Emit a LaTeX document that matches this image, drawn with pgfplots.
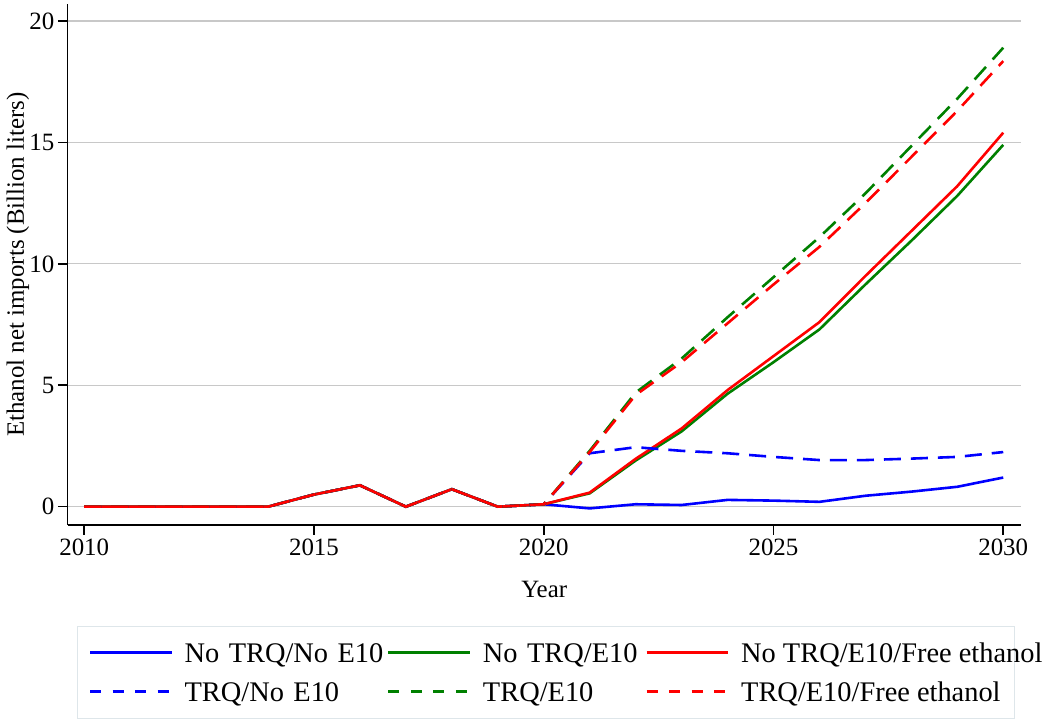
\documentclass[border=0pt]{standalone}
\usepackage{fontspec}
\setmainfont{Liberation Serif}
\usepackage{pgfplots}
\usepackage{pgfplotstable}
\pgfplotsset{compat=1.18}
\definecolor{gridgray}{RGB}{200,200,200}
\definecolor{legborder}{RGB}{222,230,234}
\definecolor{sblue}{RGB}{0,0,255}
\definecolor{sgreen}{RGB}{0,128,0}
\definecolor{sred}{RGB}{255,0,0}

\pgfplotstableread{
year ntne  nte   ntef  tne   te    tef
2010 0     0     0     0     0     0
2011 0     0     0     0     0     0
2012 0     0     0     0     0     0
2013 0     0     0     0     0     0
2014 0     0     0     0     0     0
2015 0.5   0.5   0.5   0.5   0.5   0.5
2016 0.88  0.88  0.88  0.88  0.88  0.88
2017 0     0     0     0     0     0
2018 0.72  0.72  0.72  0.72  0.72  0.72
2019 0     0     0     0     0     0
2020 0.1   0.1   0.1   0.1   0.1   0.1
2021 -0.07 0.55  0.58  2.2   2.3   2.25
2022 0.1   1.9   1.97  2.45  4.7   4.6
2023 0.07  3.1   3.22  2.3   6.1   5.95
2024 0.28  4.65  4.8   2.2   7.8   7.55
2025 0.25  5.95  6.2   2.05  9.45  9.15
2026 0.2   7.3   7.6   1.92  11.1  10.7
2027 0.45  9.15  9.5   1.92  12.9  12.5
2028 0.62  10.95 11.35 1.98  14.85 14.4
2029 0.82  12.8  13.2  2.05  16.8  16.3
2030 1.2   14.9  15.4  2.25  18.9  18.35
}\data

\begin{document}
\begin{tikzpicture}
\begin{axis}[
  scale only axis, width=953bp, height=521bp,
  xmin=2009.64, xmax=2030.38, ymin=-0.754, ymax=20.70,
  axis x line*=bottom, axis y line*=left,
  axis line style={-, line width=1.2bp, black},
  xtick={2010,2015,2020,2025,2030}, ytick={0,5,10,15,20},
  tick align=outside,
  major tick length=0.35cm,
  tick style={black, line width=1.6bp},
  ymajorgrids, grid style={gridgray, line width=1.3bp},
  /pgf/number format/assume math mode=true,
  x tick label style={/pgf/number format/1000 sep={}},
  tick label style={font=\fontsize{25}{30}\selectfont},
  xlabel={Year}, ylabel={Ethanol net imports (Billion liters)},
  every axis x label/.style={at={(rel axis cs:0.5,0)}, yshift=-72.7bp, anchor=base, font=\fontsize{25}{30}\selectfont},
  every axis y label/.style={at={(rel axis cs:0,0.5)}, xshift=-43.7bp, rotate=90, anchor=base, font=\fontsize{25}{30}\selectfont},
  legend columns=3, legend cell align=left,
  legend style={
    at={(0,0)}, anchor=north west, xshift=9.6bp, yshift=-100.7bp,
    draw=legborder, line width=1bp,
    inner xsep=11bp, inner ysep=17bp,
    font=\fontsize{28.5}{34}\selectfont,
    column sep=0pt, row sep=20bp,
    nodes={inner sep=0pt, text height=19bp, text depth=0bp},
    /tikz/column 2/.style={nodes={text width=202.6bp, align=left}},
    /tikz/column 4/.style={nodes={text width=162.4bp, align=left}},
  },
  legend image code/.code={\draw[#1, line width=2.6bp] (0bp,0bp) -- (81.5bp,0bp); \path[draw=none] (0bp,0bp) -- (94.5bp,0bp);},
]
\addplot[sblue, line width=2.6bp, forget plot] table[x=year,y=ntne]{\data};
\addplot[sgreen, line width=2.6bp, forget plot] table[x=year,y=nte]{\data};
\addplot[sred, line width=2.6bp, forget plot] table[x=year,y=ntef]{\data};
\addplot[sblue, line width=2.6bp, dash pattern=on 17bp off 10bp, forget plot] table[x=year,y=tne]{\data};
\addplot[sgreen, line width=2.6bp, dash pattern=on 17bp off 10bp, forget plot] table[x=year,y=te]{\data};
\addplot[sred, line width=2.6bp, dash pattern=on 17bp off 10bp, forget plot] table[x=year,y=tef]{\data};
\addlegendimage{sblue}
\addlegendentry{No TRQ/No E10}
\addlegendimage{sgreen}
\addlegendentry{No TRQ/E10}
\addlegendimage{sred}
\addlegendentry{\makebox[262bp][l]{No TRQ/E10/Free ethanol}}
\addlegendimage{sblue, dash pattern=on 11bp off 11.5bp}
\addlegendentry{TRQ/No E10}
\addlegendimage{sgreen, dash pattern=on 11bp off 11.5bp}
\addlegendentry{TRQ/E10}
\addlegendimage{sred, dash pattern=on 11bp off 11.5bp}
\addlegendentry{\makebox[262bp][l]{TRQ/E10/Free ethanol}}
\end{axis}
\path[use as bounding box] (-67.7bp,-194bp) rectangle (985.3bp,525bp);
\end{tikzpicture}
\end{document}
